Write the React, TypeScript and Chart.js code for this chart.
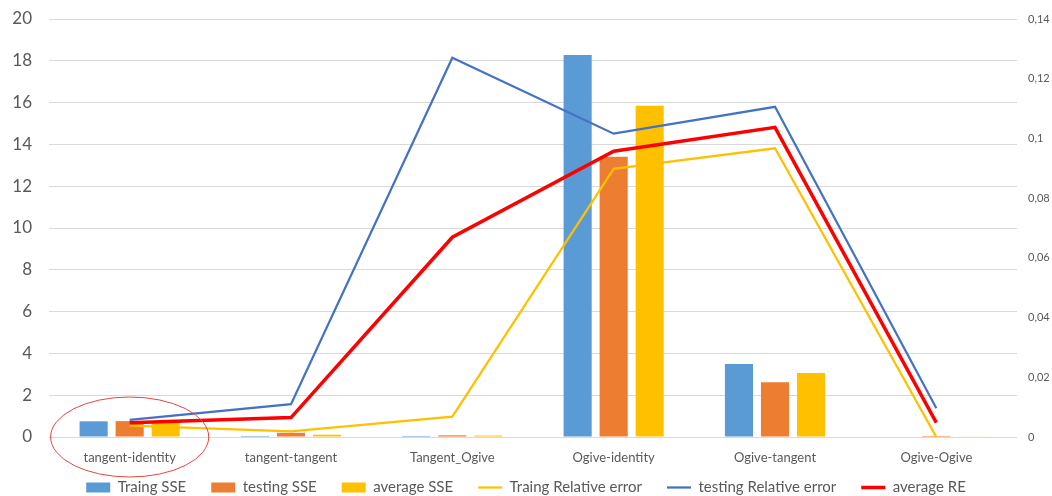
import React, { useEffect, useRef } from "react";
import { Chart, registerables } from "chart.js";

Chart.register(...registerables);

const categories = [
  "tangent-identity",
  "tangent-tangent",
  "Tangent_Ogive",
  "Ogive-identity",
  "Ogive-tangent",
  "Ogive-Ogive",
];

const trainingSSE = [0.75, 0.05, 0.05, 18.28, 3.49, 0.0];
const testingSSE = [0.76, 0.2, 0.08, 13.41, 2.62, 0.05];
const averageSSE = [0.75, 0.11, 0.07, 15.85, 3.06, 0.02];

const trainingRE = [0.0038, 0.0019, 0.0068, 0.0898, 0.0967, 0.0];
const testingRE = [0.0057, 0.011, 0.127, 0.1016, 0.1106, 0.0096];
const averageRE = [0.0048, 0.0065, 0.0669, 0.0957, 0.1037, 0.0048];

const leftTicks = { min: 0, max: 20, step: 2 };
const rightTicks = { min: 0, max: 0.14, step: 0.02 };

const FONT = "Lato, 'Open Sans', sans-serif";
const TEXT = "#595959";
const LEGEND_HEIGHT = 23;
const LEGEND_TOP = 455;

// Red ellipse circling the first category label
const circlePlugin = {
  id: "circleFirst",
  afterDraw(chart: any) {
    const x = chart.scales.x;
    const y = chart.scales.y;
    const cx = x.getPixelForValue(0);
    const cy = y.getPixelForValue(0);
    const rx = (x.width / categories.length) * 0.49;
    const ctx = chart.ctx;
    ctx.save();
    ctx.beginPath();
    ctx.ellipse(cx, cy, rx, 40, 0, 0, Math.PI * 2);
    ctx.strokeStyle = "#E8453C";
    ctx.lineWidth = 1;
    ctx.stroke();
    ctx.restore();
  },
};

// Keeps the legend box compact while the items stay widely spaced
const legendPlacePlugin = {
  id: "legendPlace",
  beforeLayout(chart: any) {
    const legend = chart.legend;
    if (legend && !legend.__wrapped) {
      const fit = legend.fit.bind(legend);
      legend.fit = function () {
        fit();
        this.height = LEGEND_HEIGHT;
      };
      legend.__wrapped = true;
    }
  },
  afterLayout(chart: any) {
    const legend = chart.legend;
    if (legend) {
      legend.top = LEGEND_TOP;
      legend.bottom = chart.height;
    }
  },
};

const noOverhang = (scale: any) => {
  scale.paddingTop = 0;
  scale.paddingBottom = 0;
};

export default function App() {
  const ref = useRef<HTMLCanvasElement>(null);

  useEffect(() => {
    if (!ref.current) return;
    const barCommon = {
      type: "bar" as const,
      yAxisID: "y",
      categoryPercentage: 0.67,
      barPercentage: 0.78,
      order: 4,
    };
    const lineCommon = {
      type: "line" as const,
      yAxisID: "y1",
      pointRadius: 0,
      pointHoverRadius: 0,
      tension: 0,
      fill: false,
      pointStyle: "line",
    };
    const chart = new Chart(ref.current, {
      type: "bar",
      data: {
        labels: categories,
        datasets: [
          { ...barCommon, label: "Traing SSE", data: trainingSSE, backgroundColor: "#5B9BD5", pointStyle: "rect" } as any,
          { ...barCommon, label: "testing SSE", data: testingSSE, backgroundColor: "#ED7D31", pointStyle: "rect" } as any,
          { ...barCommon, label: "average SSE", data: averageSSE, backgroundColor: "#FFC000", pointStyle: "rect" } as any,
          { ...lineCommon, label: "Traing Relative error", data: trainingRE, borderColor: "#FFC000", backgroundColor: "#FFC000", borderWidth: 2.25, order: 3 } as any,
          { ...lineCommon, label: "testing Relative error", data: testingRE, borderColor: "#4472C4", backgroundColor: "#4472C4", borderWidth: 2.25, order: 2 } as any,
          { ...lineCommon, label: "average RE", data: averageRE, borderColor: "#FF0000", backgroundColor: "#FF0000", borderWidth: 3.5, order: 1 } as any,
        ],
      },
      options: {
        animation: false,
        responsive: true,
        maintainAspectRatio: false,
        layout: { padding: { top: 19, left: 0, right: 0, bottom: 0 } },
        plugins: {
          tooltip: { enabled: false },
          legend: {
            position: "bottom",
            labels: {
              usePointStyle: true,
              pointStyleWidth: 24,
              boxHeight: 10,
              boxWidth: 24,
              padding: 25,
              color: TEXT,
              font: { family: FONT, size: 15 },
              sort: (a: any, b: any) => a.datasetIndex - b.datasetIndex,
            },
          },
        },
        scales: {
          x: {
            grid: { display: false, drawTicks: false },
            border: { display: false },
            ticks: { color: TEXT, font: { family: FONT, size: 13 }, padding: 13 },
            afterFit(scale: any) {
              scale.height = 36;
              scale.paddingLeft = 0;
              scale.paddingRight = 0;
            },
          },
          y: {
            position: "left",
            min: leftTicks.min,
            max: leftTicks.max,
            ticks: { stepSize: leftTicks.step, color: TEXT, font: { family: FONT, size: 17 }, padding: 17 },
            grid: { color: "#D9D9D9", lineWidth: 1, drawTicks: false },
            border: { display: false },
            afterFit(scale: any) {
              scale.width = 49;
              noOverhang(scale);
            },
          },
          y1: {
            position: "right",
            min: rightTicks.min,
            max: rightTicks.max,
            ticks: {
              stepSize: rightTicks.step,
              color: TEXT,
              font: { family: FONT, size: 11 },
              padding: 11,
              callback: (v: any) => String(Number(Number(v).toFixed(2))).replace(".", ","),
            },
            grid: { display: false, drawTicks: false },
            border: { display: false },
            afterFit(scale: any) {
              scale.width = 35;
              noOverhang(scale);
            },
          },
        },
      },
      plugins: [circlePlugin, legendPlacePlugin],
    });
    return () => chart.destroy();
  }, []);

  return (
    <div style={{ position: "fixed", left: 0, top: 0, width: 1052, height: 496, background: "#fff" }}>
      <canvas ref={ref} />
    </div>
  );
}
